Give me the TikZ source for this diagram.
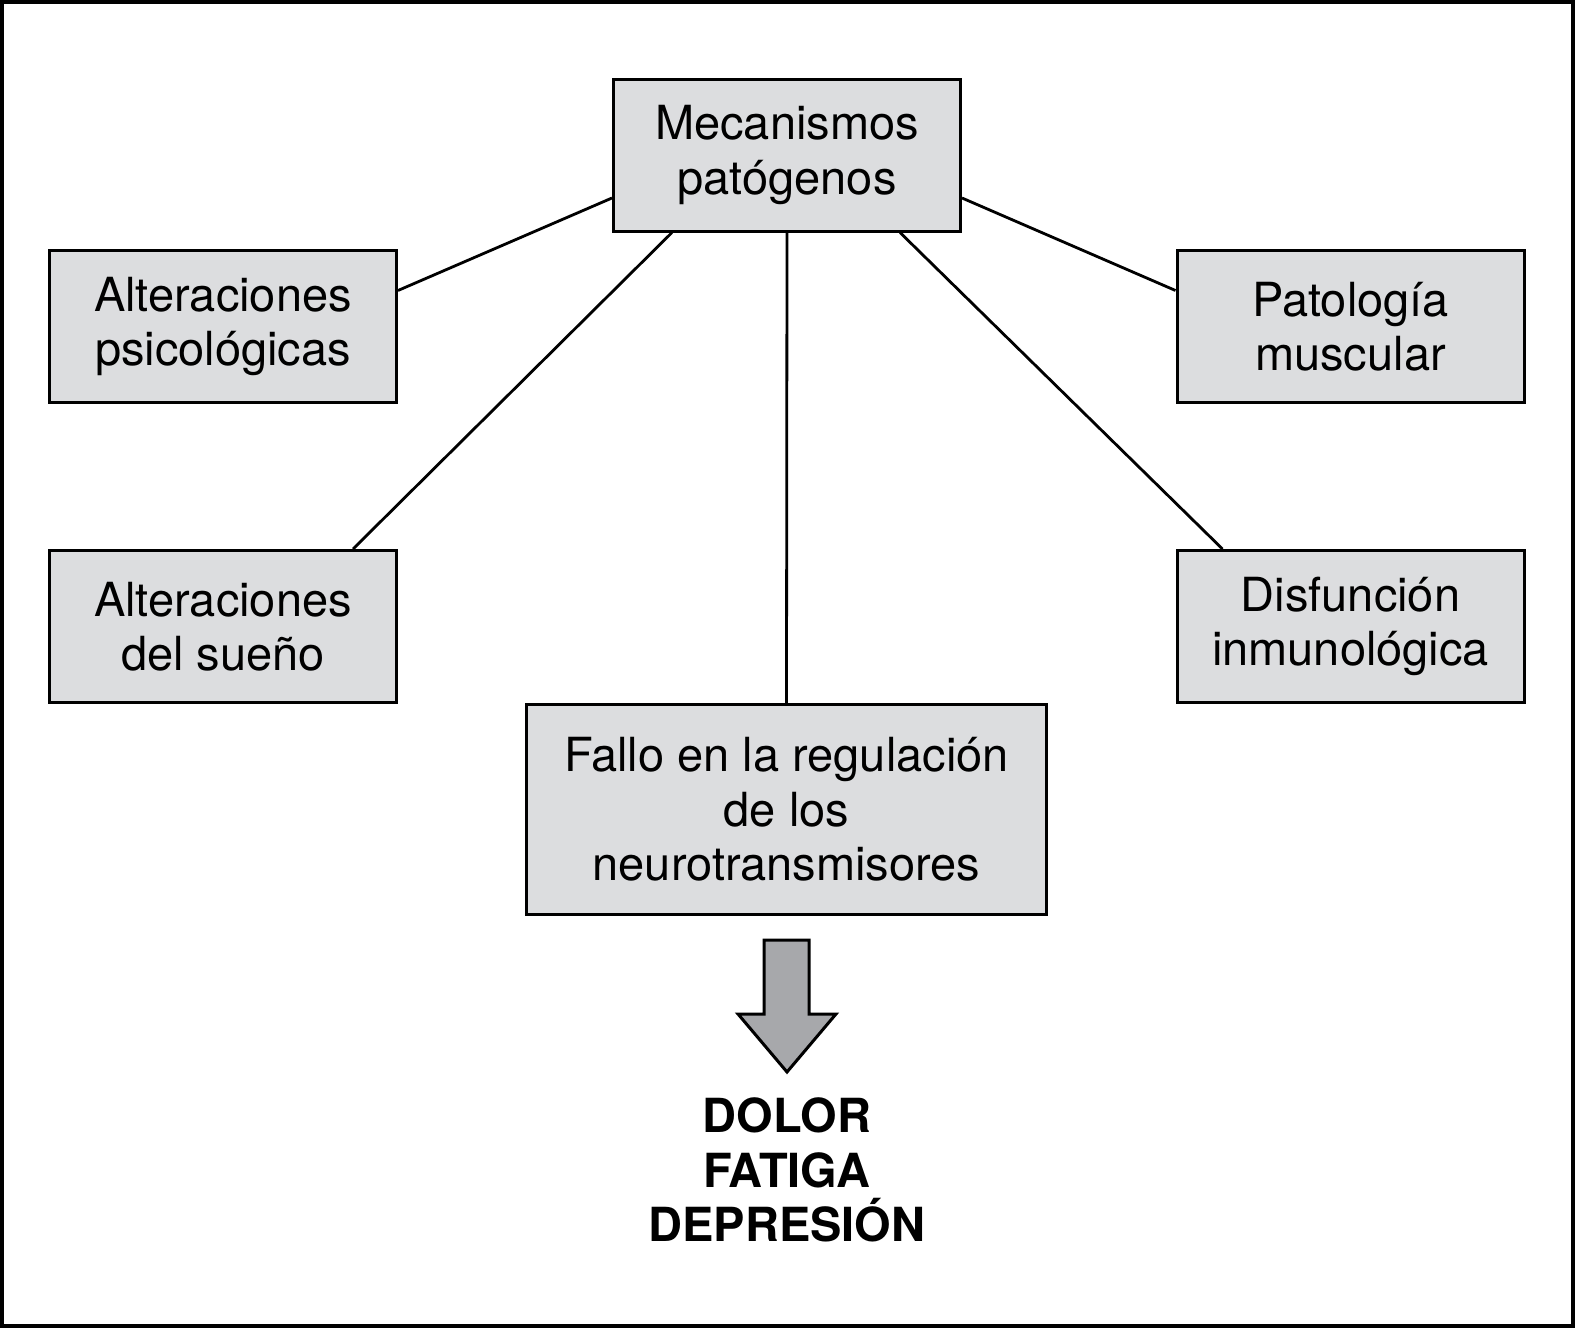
\documentclass[tikz,border=0pt]{standalone}
\usepackage{fontspec}
\setmainfont{TeX Gyre Heros}
\usetikzlibrary{calc}
\definecolor{boxgray}{RGB}{220,221,223}
\definecolor{arrowgray}{RGB}{167,168,171}
\begin{document}
\begin{tikzpicture}[x=1pt,y=-1pt,
  box/.style={draw=black, line width=3pt, fill=boxgray, align=center,
    font=\fontsize{47}{54.5}\selectfont, inner sep=0pt,
    minimum width=347pt, minimum height=152pt},
  link/.style={line width=2.8pt}]
\useasboundingbox (0,0) rectangle (1575,1328);
\draw[line width=4pt] (2,2) rectangle (1573,1326);
\node[box] (top) at (787,155) {Mecanismos\\patógenos};
\node[box] (psico) at (223,326.5) {Alteraciones\\psicológicas};
\node[box] (sueno) at (223,626.5) {Alteraciones\\del sueño};
\node[box] (musc) at (1350.5,326.5) {Patología\\muscular};
\node[box] (inmu) at (1350.5,626.5) {Disfunción\\inmunológica};
\node[box, minimum width=520pt, minimum height=210pt] (fallo) at (786.5,809.5) {Fallo en la regulación\\de los\\neurotransmisores};
\draw[link] ([yshift=-43pt]top.west) -- ([yshift=36pt]psico.east);
\draw[link] ([yshift=-43pt]top.east) -- ([yshift=36pt]musc.west);
\draw[link] ([xshift=-115pt]top.south) -- ([xshift=130pt]sueno.north);
\draw[link] ([xshift=113pt]top.south) -- ([xshift=-128pt]inmu.north);
\draw[link] (top.south) -- (fallo.north);
\draw[line width=3pt, fill=arrowgray, line join=miter]
  (764,940) -- (809,940) -- (809,1014) -- (836,1014) -- (787,1072)
  -- (738,1014) -- (764,1014) -- cycle;
\node[font=\bfseries\fontsize{47}{54.5}\selectfont, align=center, inner sep=0pt] (res) at (787,1170) {DOLOR\\FATIGA\\DEPRESIÓN};
\end{tikzpicture}
\end{document}
